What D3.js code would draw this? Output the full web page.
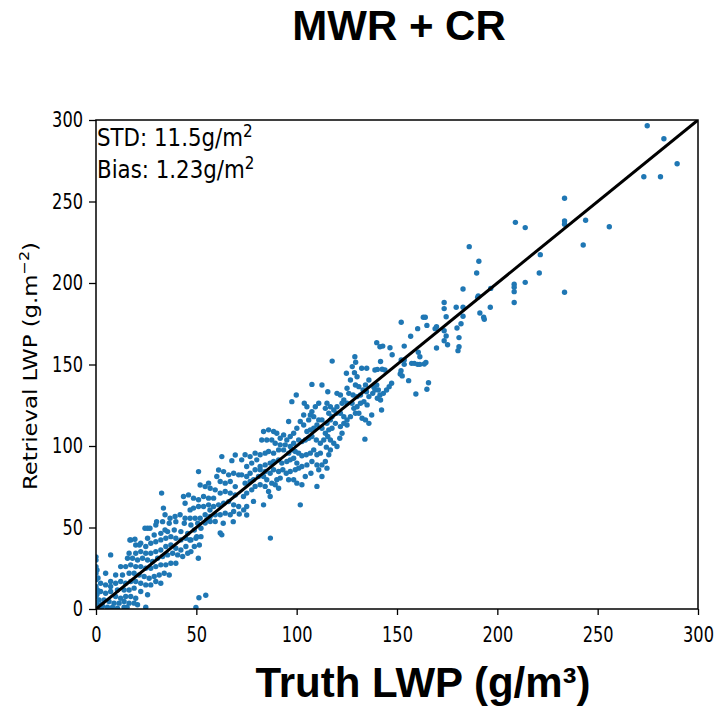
<!DOCTYPE html>
<html>
<head>
<meta charset="utf-8">
<script src="https://cdn.jsdelivr.net/npm/d3@7"></script>
<style>
  body { margin: 0; background: #fff; }
  svg { display: block; }
</style>
</head>
<body>
<script>
'use strict';

// truth LWP vs retrieved LWP
var lwpPairs = [
  // 0 - 55
  [25.7,49.5],[29.8,51.5],[33.2,53.6],[36.5,52.6],[39.8,53.6],[44,52.6],[47.3,51.5],[50.7,52.6],[52.3,49.5],[49,48.5],
  [45.7,46.4],[42.3,47.5],[39,48.5],[35.7,47.5],[32.3,46.4],[29,45.4],[25.7,43.4],[17.3,42.4],[19.8,39.3],[22.3,40.3],
  [24.8,38.3],[27.3,40.3],[29.8,41.3],[32.3,42.4],[34.8,43.4],[37.3,44.4],[39.8,43.4],[42.3,42.4],[44.8,43.4],[47.3,42.4],
  [49.8,43.4],[52.3,44.4],[51.5,39.3],[49,38.3],[47.3,35.2],[44.8,38.3],[42.3,36.2],[39.8,37.3],[37.3,39.3],[34.8,38.3],
  [32.3,36.2],[29.8,35.2],[27.3,34.2],[24.8,34.2],[22.3,35.2],[19.8,34.2],[16.5,34.2],[15.7,31.1],[18.2,31.1],[20.7,30.1],
  [23.2,31.1],[25.7,30.1],[28.2,29.1],[30.7,31.1],[33.2,32.2],[35.7,33.2],[38.2,34.2],[40.7,33.2],[43.2,32.2],[45.7,34.2],
  [39.8,28.1],[37.3,28.1],[34.8,27.1],[32.3,27.1],[29.8,26],[27.3,25],[24.8,25],[22.3,26],[19.8,26],[17.3,27.1],
  [14.8,26],[12.3,26],[7.3,33.2],[4.8,21.9],[9.8,20.9],[13.2,20.9],[16.5,21.9],[19,21.9],[21.5,20.9],[24,19.9],
  [26.5,18.9],[29,19.9],[31.5,20.9],[34,21.9],[36.5,20.9],[32.3,15.8],[29.8,16.9],[27.3,14.8],[24.8,14.8],[22.3,15.8],
  [19.8,16.9],[17.3,16.9],[14.8,15.8],[12.3,16.9],[9.8,15.8],[7.3,16.9],[4.8,14.8],[2.3,15.8],[7.3,13.8],[10.7,11.7],
  [14,11.7],[16.5,11.7],[19,12.8],[22.3,10.7],[25.7,8.7],[19.8,6.6],[17.3,7.7],[14.8,7.7],[12.3,6.6],[9.8,7.7],
  [7.3,10.7],[4.8,9.7],[2.3,10.7],[0.7,11.7],[0,21.9],[0,17.9],[0,13.8],[0,7.7],[1.5,5.6],[4,5.6],
  [6.5,4.6],[9,3.6],[11.5,3.6],[14,4.6],[16.5,3.6],[19,3.6],[20.7,2.6],[3.2,1.5],[5.7,1.1],[8.2,1.1],
  [10.7,0.5],[14,1.1],[15.5,1.1],[24.8,1.1],[1,2.6],[51.3,6.9],[54.7,8.4],[49.8,1],
  [0,30],[0,26],[0.5,24],[1,19],[0,12],[0.5,9],[0,4],[1,1],[2,0.5],[3,3],[0,0],[0,32],
  [16.9,42.3],[19.4,42.8],[21.6,39.3],[24.4,49.5],[26.9,49.5],[30.2,53.6],[34.4,48.5],[46.8,42.3],[50.2,44.4],[51,31.1],
  [55.2,54.6],[56.8,60.7],
  // 30 - 75
  [62.7,93.5],[69.4,94.5],[67.7,91],[71.1,82.3],[68.6,83.3],[66.1,82.3],[63.6,84.3],[61.1,85.3],[60.2,81.3],[61.9,78.2],
  [64.4,77.2],[66.9,78.2],[69.4,75.1],[69.4,70],[66.9,71.1],[64.4,72.1],[61.9,71.1],[59.4,73.1],[56.9,74.1],[54.4,75.1],
  [51.9,76.1],[51.1,84.3],[56.1,77.2],[58.6,68],[56.1,68],[53.6,69],[51.1,67],[48.6,68],[46.1,70],[43.6,69],
  [44.4,64.9],[32.7,71.1],[46.9,60.8],[48.6,61.9],[51.1,62.9],[53.6,62.9],[56.1,63.9],[58.6,62.9],[61.1,63.9],[63.6,64.9],
  [66.1,65.9],[68.6,63.9],[71.1,62.9],[68.6,59.8],[66.9,57.8],[64.4,58.8],[61.9,57.8],[59.4,57.8],[56.9,56.8],[54.4,57.8],
  [51.9,55.7],[49.4,55.7],[46.9,55.7],[44.4,55.7],[41.9,57.8],[39.4,56.8],[36.9,55.7],[34.4,57.8],[33.6,61.9],[54.4,52.7],
  [56.9,53.7],[59.4,53.7],[61.9,46.6],[62.7,45.5],[86.9,43.5],[73.6,60.8],[63.4,52.6],[68.4,53.6],[71.4,58.3],[75.1,57.7],
  // 70 - 140
  [124.8,144.6],[128.8,145],[130.1,142.5],[129.3,137.4],[131,136.4],[134.3,137.4],[136,140.5],[126.8,140.5],[125.1,135.4],[126,132.3],
  [128.1,131.3],[130.1,130.3],[131.8,131.3],[133.1,134.4],[134.8,133.3],[136,130.3],[121.8,131.3],[120.1,132.3],[115.5,133.3],[112.6,137.4],
  [107.6,137.8],[115.1,126.2],[116.8,124.1],[118.5,122.1],[120.1,124.1],[122.6,126.2],[123.5,128.2],[125.1,126.2],[127.6,126.2],[128.5,123.1],
  [130.1,124.1],[131.8,126.2],[133.5,127.2],[135.1,125.2],[129.3,120.1],[131,120.1],[132.6,117],[134.3,116],[134,104.2],[136,113.9],
  [126.8,118],[125.1,116],[123.5,118],[121.8,120.1],[119.8,120.1],[117.6,118],[116,120.1],[114.3,123.1],[111,126.2],[109.3,124.1],
  [107.6,121.1],[106.8,119],[105.1,124.1],[103.8,126.2],[99.8,131.3],[97.6,127.2],[103.5,119],[106,116],[108.5,118],[111,116],
  [112.6,116],[115.1,113.9],[116.8,116],[119.3,113.9],[121.8,111.9],[123.5,113.9],[125.1,112.9],[122.6,107.8],[121.5,104.8],[117.6,110.9],
  [116,109.9],[114.3,107.8],[112.6,110.9],[110.1,112.9],[108.5,110.9],[106.8,109.9],[105.1,108.9],[103.5,112.9],[101.8,115],[100.1,110.9],
  [98.5,107.8],[96,115],[96.8,105.8],[95.1,103.7],[93.5,106.8],[91.8,104.8],[90.1,107.8],[88.5,108.9],[86,109.9],[83.5,108.9],
  [82.6,103.7],[85.1,103.7],[87.6,103.7],[89.3,101.7],[91.8,100.7],[94.3,100.7],[96.8,99.7],[98.5,101.7],[101,103.7],[102.6,102.7],
  [104.3,103.7],[106,104.8],[107.6,105.8],[109.8,103.7],[111.8,101.7],[113.5,103.7],[115.5,105.8],[116.8,103.7],[118.5,101.7],[120.1,99.7],
  [116.8,97.6],[114.8,99.3],[116,94.6],[111.8,95.6],[110.1,94.6],[108.5,97.6],[106.8,95.6],[104.8,94.6],[102.6,94],[101,95.6],
  [99.3,96.6],[97.6,97.6],[96,95.6],[93.5,97.6],[91,97.6],[88.5,95.6],[86,96.6],[84.3,95.6],[81.8,94.6],[79.3,95.6],
  [76.8,93.5],[74.3,94.6],[72.6,91.5],[75.1,87.4],[77.6,89.5],[80.1,91.5],[81.8,87.4],[84.3,88.4],[86.8,89.5],[88.5,90.5],
  [91,91.5],[92.6,89.5],[95.1,90.5],[96.8,91.5],[98.5,92.5],[100.1,89.5],[102.6,87.4],[105.1,88.4],[107.6,90.5],[110.1,88.4],
  [112.6,88.4],[114.3,90.5],[115.1,86.4],[111,85.4],[107.1,83.3],[104.3,81.3],[101,86.4],[99.3,85.4],[96.8,84.4],[94.8,83.3],
  [93.1,85.4],[91,84.4],[88.5,85.4],[86.8,83.3],[84.3,84.4],[81.8,85.4],[79.3,85.4],[76.8,83.3],[75.1,81.3],[72.6,82.3],
  [74.3,77.2],[76.8,78.2],[78.5,79.3],[81,81.3],[83.5,81.3],[85.1,79.3],[87.6,77.2],[90.1,79.3],[91.8,80.3],[96,79.3],
  [98.5,79.3],[100.1,77.2],[102.6,76.2],[112.6,81.3],[110.1,75.2],[73.5,69],[75.1,71.1],[77.6,73.1],[79.3,75.2],[81.8,76.2],
  [84.3,75.2],[86,72.1],[89.3,76.2],[91,74.1],[78.5,66],[83.5,63.9],[86.8,69],[75.1,62.9],[101.8,63.9],
  // 120 - 200
  [139.9,163.4],[141.5,160.9],[142.9,161.3],[139,146.6],[140.2,147],[144,146.6],[129,154.8],[129.4,151.4],[127.7,148.7],[132.4,147.7],
  [134.9,147.7],[137.9,132.3],[139,134.4],[138.5,136],[139.9,137.4],[140.7,134.4],[141.5,131.3],[140.2,129.3],[141.8,128.2],[143.2,132.3],
  [144.8,134.4],[146.1,136.4],[147.3,138.5],[142.3,122.1],[137.4,119],[141.8,151.8],[142.6,147.1],[117.7,152.1],
  [152.1,175.9],[156.8,167.3],[153.6,161.3],[160.3,172],[163.1,179],[164.1,179],[164.9,174],[169.7,173.2],[169,172],[174.5,179.3],
  [173.5,170.7],[174.5,167.5],[173.5,164.6],[175.2,162.1],[169.7,160.1],[182.9,179.6],[179.9,172.4],[181.9,175],[180.9,166.5],[180.9,160.9],
  [180.4,158.5],[190.2,191.2],[191.3,181.6],[193.2,179],[193.5,177.7],[152.1,152.8],[153.6,150.1],[153.6,152.8],[157.3,150.7],[158.6,150.7],
  [160.3,150.1],[161.4,150.1],[163.6,150.3],[164.4,151.3],[160.6,157.5],[161.4,154.8],[152,146.2],[152.6,143],[151.6,144.2],[155.8,140.1],
  [165.7,138.8],[164.9,134.8],[159.4,131.9],[146.5,160.3],[147.6,156],
  // 170 - 300
  [274.7,296.5],[283,288.5],[289.6,273.2],[273,265.2],[281.3,265.2],[233.5,252],[233.5,238],[233.5,236],[244,238.5],[255.8,234.5],
  [242.8,223.3],[233.5,194.3],[209,237.2],[213.9,234],[221.4,217.4],[220.9,206.1],[213.9,200.4],[208.4,199.2],[208.4,197.4],[208.4,194.7],
  [208.4,188],[196.7,196.7],[196.5,185.1],[186,222.3],[190.8,213.3],[189.7,206.1],[182.9,196.3],[190.5,192],[173.5,188],[173.5,184.3],
  [179.5,185.1],[182.9,185.1]
];

var tickValues = [0, 50, 100, 150, 200, 250, 300];
var statLabels = ["STD: 11.5g/m", "Bias: 1.23g/m"];
var statSup = ["2", "2"];
var chartTitle = "MWR + CR";
var xTitle = "Truth LWP (g/m\u00b3)";
var yTitle = ["Retrieval LWP (g.m", "\u22122", ")"];

var chart = {};
chart.width = 720;
chart.height = 706;
chart.left = 96;
chart.right = 698;
chart.top = 120;
chart.bottom = 609;
chart.squish = 0.79;
chart.blue = "#1f77b4";
chart.tickFont = "'DejaVu Sans', sans-serif";
chart.boldFont = "'Liberation Sans', Arial, sans-serif";

chart.makeScales = function(){
    chart.x = d3.scaleLinear().domain([0, 300]).range([chart.left, chart.right]);
    chart.y = d3.scaleLinear().domain([0, 300]).range([chart.bottom, chart.top]);
}

chart.drawPoints = function(svg){
    svg.append("clipPath").attr("id", "plotclip")
        .append("rect")
        .attr("x", chart.left).attr("y", chart.top)
        .attr("width", chart.right - chart.left)
        .attr("height", chart.bottom - chart.top);

    svg.append("g").attr("clip-path", "url(#plotclip)")
        .selectAll("circle")
        .data(lwpPairs)
        .enter()
            .append("circle")
            .attr("cx", function(d){ return chart.x(d[0]); })
            .attr("cy", function(d){ return chart.y(d[1]); })
            .attr("r", 2.7)
            .attr("fill", chart.blue);

    // 1:1 line
    svg.append("line")
        .attr("clip-path", "url(#plotclip)")
        .attr("x1", chart.x(0)).attr("y1", chart.y(0))
        .attr("x2", chart.x(300)).attr("y2", chart.y(300))
        .attr("stroke", "#000")
        .attr("stroke-width", 3);
}

chart.drawAxes = function(svg){
    var xAxis = d3.axisBottom(chart.x).tickValues(tickValues).tickSize(6).tickPadding(12);
    var yAxis = d3.axisLeft(chart.y).tickValues(tickValues).tickSize(7);

    var gx = svg.append("g").attr("transform", "translate(0," + chart.bottom + ")").call(xAxis);
    var gy = svg.append("g").attr("transform", "translate(" + chart.left + ",0)").call(yAxis);

    [gx, gy].forEach(function(g){
        g.select(".domain").remove();
        g.selectAll(".tick line").attr("stroke", "#000").attr("stroke-width", 1.3);
        g.selectAll(".tick text")
            .attr("fill", "#000")
            .style("font-family", chart.tickFont)
            .style("font-size", "20.5px");
    });
    gx.selectAll(".tick text").attr("transform", "scale(" + chart.squish + ",1)");
    gy.selectAll(".tick text")
        .attr("x", -13 / chart.squish)
        .attr("transform", "scale(" + chart.squish + ",1)");

    svg.append("rect")
        .attr("x", chart.left).attr("y", chart.top)
        .attr("width", chart.right - chart.left)
        .attr("height", chart.bottom - chart.top)
        .attr("fill", "none")
        .attr("stroke", "#000")
        .attr("stroke-width", 1.5);
}

chart.drawText = function(svg){
    svg.append("text")
        .attr("x", 399).attr("y", 40)
        .attr("text-anchor", "middle")
        .style("font-family", chart.boldFont)
        .style("font-weight", "bold")
        .style("font-size", "42px")
        .text(chartTitle);

    svg.append("text")
        .attr("x", 423).attr("y", 697)
        .attr("text-anchor", "middle")
        .style("font-family", chart.boldFont)
        .style("font-weight", "bold")
        .style("font-size", "42px")
        .text(xTitle);

    var yt = svg.append("text")
        .attr("transform", "translate(37,366) rotate(-90) scale(1,0.88)")
        .attr("text-anchor", "middle")
        .style("font-family", chart.tickFont)
        .style("font-size", "22.8px");
    yt.append("tspan").text(yTitle[0]);
    yt.append("tspan").attr("dy", -9).style("font-size", "16px").text(yTitle[1]);
    yt.append("tspan").attr("dy", 9).text(yTitle[2]);

    statLabels.forEach(function(label, i){
        var t = svg.append("text")
            .attr("transform", "translate(97," + (146 + i * 31.5) + ") scale(0.89,1)")
            .style("font-family", chart.tickFont)
            .style("font-size", "24px");
        t.append("tspan").text(label);
        t.append("tspan").attr("dy", -9).style("font-size", "17px").text(statSup[i]);
    });
}

chart.run = function(){
    var svg = d3.select("body").append("svg")
        .attr("width", chart.width)
        .attr("height", chart.height);
    chart.makeScales();
    chart.drawPoints(svg);
    chart.drawAxes(svg);
    chart.drawText(svg);
}

window.onload = chart.run;
</script>
</body>
</html>
